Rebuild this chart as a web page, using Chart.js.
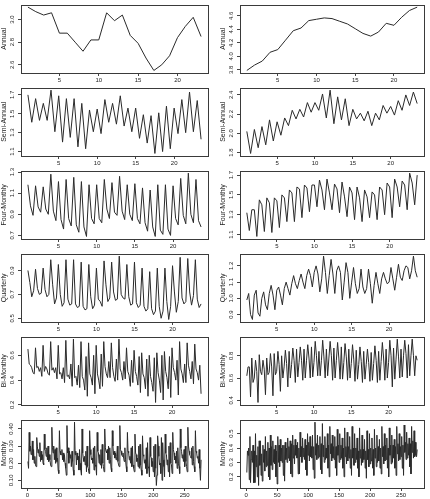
<!DOCTYPE html>
<html><head><meta charset="utf-8">
<script src="https://cdn.jsdelivr.net/npm/chart.js@4/dist/chart.umd.min.js"></script>
<style>
html,body{margin:0;padding:0;background:#fff;width:430px;height:499px;overflow:hidden}
canvas{position:absolute;display:block}
</style></head><body>
<script>
// ---- data ----
const rowNames = ["Annual","Semi-Annual","Four-Monthly","Quarterly","Bi-Monthly","Monthly"];
const periodsPerYear = [1,2,3,4,6,12];

const annualL = [3.11,3.07,3.04,3.06,2.88,2.88,2.80,2.72,2.82,2.82,3.06,2.99,3.04,2.86,2.79,2.66,2.55,2.60,2.68,2.84,2.94,3.02,2.85];
const annualR = [3.79,3.87,3.93,4.06,4.10,4.24,4.38,4.42,4.53,4.55,4.57,4.56,4.52,4.48,4.41,4.34,4.30,4.36,4.49,4.46,4.58,4.68,4.73];

const semiL = [1.70,1.41,1.66,1.43,1.61,1.43,1.75,1.31,1.69,1.20,1.66,1.25,1.66,1.15,1.61,1.13,1.54,1.31,1.55,1.29,
  1.65,1.41,1.61,1.39,1.69,1.37,1.56,1.31,1.56,1.24,1.49,1.19,1.48,1.08,1.51,1.10,1.58,1.13,1.56,1.29,1.65,1.30,1.73,1.31,1.64,1.23];
const semiR = [2.02,1.79,2.04,1.85,2.07,1.88,2.14,1.92,2.12,1.98,2.16,2.08,2.24,2.15,2.25,2.17,2.32,2.22,2.32,2.24,
  2.41,2.16,2.45,2.10,2.38,2.14,2.36,2.08,2.25,2.15,2.21,2.13,2.23,2.08,2.21,2.14,2.29,2.21,2.28,2.19,2.34,2.24,2.40,2.29,2.43,2.31];

const fourL = [1.18,0.98,0.89, 1.17,0.97,0.92, 1.16,0.95,0.90, 1.28,0.93,0.84, 1.21,0.85,0.76, 1.23,0.86,0.79,
  1.25,0.80,0.73, 1.21,0.78,0.69, 1.18,0.86,0.81, 1.18,0.86,0.82, 1.23,0.95,0.86, 1.20,0.92,0.89,
  1.26,0.93,0.85, 1.18,0.90,0.84, 1.19,0.86,0.81, 1.15,0.82,0.74, 1.13,0.78,0.69, 1.18,0.75,0.71,
  1.18,0.76,0.70, 1.17,0.86,0.80, 1.24,0.89,0.81, 1.29,0.90,0.82, 1.23,0.84,0.78];
const fourR = [1.32,1.14,1.35, 1.35,1.08,1.45, 1.40,1.13,1.47, 1.42,1.12,1.47, 1.44,1.17,1.50, 1.47,1.23,1.55,
  1.52,1.23,1.58, 1.56,1.27,1.60, 1.57,1.33,1.60, 1.60,1.38,1.65, 1.55,1.35,1.66, 1.52,1.35,1.61,
  1.56,1.32,1.63, 1.48,1.28,1.58, 1.52,1.25,1.58, 1.47,1.23,1.55, 1.48,1.27,1.53, 1.50,1.25,1.58,
  1.55,1.30,1.62, 1.58,1.27,1.66, 1.58,1.38,1.64, 1.60,1.35,1.72, 1.62,1.40,1.70];

const quartL = [0.90,0.80,0.68,0.73, 0.91,0.75,0.70,0.71, 0.92,0.74,0.68,0.70, 0.99,0.78,0.62,0.67,
  0.95,0.70,0.60,0.63, 0.99,0.66,0.61,0.62, 0.99,0.62,0.59,0.60, 0.97,0.60,0.57,0.58,
  0.95,0.68,0.58,0.61, 0.92,0.66,0.64,0.60, 0.98,0.78,0.64,0.67, 0.97,0.72,0.65,0.66,
  1.02,0.70,0.67,0.66, 0.95,0.68,0.61,0.62, 0.97,0.63,0.59,0.61, 0.92,0.60,0.56,0.58,
  0.89,0.58,0.53,0.56, 0.92,0.60,0.50,0.56, 0.92,0.64,0.49,0.60, 0.94,0.72,0.55,0.64,
  1.01,0.67,0.62,0.64, 1.00,0.72,0.61,0.69, 0.99,0.66,0.59,0.62];
const quartR = [0.99,1.03,0.90,0.87, 1.02,1.05,0.91,0.89, 1.00,1.04,0.96,0.93, 1.03,1.08,1.02,0.93,
  1.05,1.07,1.02,0.96, 1.06,1.10,1.06,1.02, 1.09,1.14,1.09,1.06, 1.11,1.15,1.10,1.06,
  1.14,1.18,1.14,1.07, 1.16,1.20,1.15,1.04, 1.12,1.26,1.16,1.03, 1.14,1.24,1.15,1.03,
  1.17,1.20,1.16,0.99, 1.10,1.22,1.16,1.00, 1.10,1.19,1.09,1.03, 1.06,1.18,1.07,1.03,
  1.06,1.18,1.09,0.97, 1.08,1.16,1.09,1.03, 1.12,1.16,1.12,1.09, 1.10,1.19,1.12,1.05,
  1.13,1.21,1.13,1.11, 1.17,1.20,1.19,1.12, 1.17,1.26,1.17,1.13];

const bimL = [0.65,0.53,0.52,0.50,0.46,0.45, 0.66,0.50,0.51,0.47,0.50,0.43, 0.68,0.47,0.51,0.49,0.45,0.44,
  0.71,0.48,0.50,0.46,0.50,0.41, 0.68,0.45,0.46,0.41,0.50,0.38, 0.72,0.43,0.44,0.41,0.53,0.35,
  0.73,0.42,0.43,0.36,0.52,0.34, 0.71,0.43,0.40,0.32,0.59,0.27, 0.70,0.45,0.42,0.36,0.60,0.29,
  0.68,0.45,0.40,0.33,0.61,0.35, 0.71,0.51,0.45,0.42,0.55,0.42, 0.70,0.50,0.43,0.39,0.57,0.40,
  0.73,0.49,0.46,0.40,0.55,0.41, 0.66,0.47,0.44,0.35,0.56,0.38, 0.64,0.47,0.43,0.36,0.59,0.30,
  0.62,0.45,0.42,0.33,0.57,0.27, 0.60,0.43,0.38,0.31,0.58,0.22, 0.62,0.46,0.40,0.30,0.60,0.24,
  0.63,0.47,0.42,0.33,0.59,0.26, 0.66,0.50,0.46,0.40,0.56,0.28, 0.71,0.49,0.45,0.38,0.53,0.38,
  0.70,0.52,0.47,0.41,0.55,0.37, 0.69,0.49,0.46,0.40,0.52,0.29];
const bimR = [0.62,0.70,0.70,0.43,0.78,0.56, 0.60,0.76,0.66,0.38,0.81,0.66, 0.63,0.76,0.68,0.45,0.78,0.63,
  0.65,0.82,0.70,0.44,0.82,0.63, 0.66,0.84,0.72,0.48,0.80,0.60, 0.70,0.85,0.73,0.52,0.84,0.60,
  0.72,0.87,0.76,0.56,0.86,0.61, 0.74,0.88,0.76,0.58,0.86,0.60, 0.76,0.90,0.78,0.60,0.88,0.61,
  0.74,0.93,0.80,0.62,0.84,0.62, 0.76,0.94,0.79,0.60,0.86,0.62, 0.78,0.93,0.80,0.58,0.87,0.60,
  0.76,0.92,0.78,0.59,0.88,0.59, 0.74,0.91,0.79,0.58,0.86,0.60, 0.73,0.90,0.77,0.57,0.85,0.59,
  0.72,0.88,0.75,0.56,0.84,0.59, 0.72,0.86,0.74,0.57,0.83,0.58, 0.73,0.89,0.76,0.56,0.84,0.58,
  0.75,0.92,0.78,0.58,0.86,0.60, 0.74,0.94,0.80,0.52,0.87,0.59, 0.77,0.95,0.79,0.60,0.86,0.61,
  0.80,0.94,0.82,0.60,0.90,0.62, 0.80,0.95,0.80,0.62,0.80,0.76];

const monL = [
  0.21,0.17,0.38,0.27,0.30,0.25,0.26,0.33,0.22,0.28,0.20,0.24,
  0.19,0.18,0.35,0.30,0.26,0.28,0.24,0.32,0.21,0.27,0.22,0.25,
  0.20,0.19,0.37,0.28,0.27,0.24,0.29,0.22,0.30,0.21,0.25,0.22,
  0.19,0.18,0.41,0.29,0.26,0.30,0.22,0.28,0.20,0.29,0.21,0.23,
  0.16,0.14,0.39,0.27,0.25,0.25,0.28,0.22,0.26,0.21,0.25,0.20,
  0.17,0.13,0.42,0.26,0.29,0.20,0.27,0.23,0.25,0.18,0.27,0.21,
  0.16,0.13,0.44,0.25,0.27,0.19,0.26,0.22,0.24,0.16,0.28,0.20,
  0.16,0.13,0.40,0.26,0.23,0.21,0.24,0.19,0.27,0.15,0.30,0.18,
  0.17,0.14,0.39,0.28,0.25,0.22,0.23,0.20,0.29,0.16,0.30,0.19,
  0.18,0.13,0.38,0.27,0.26,0.20,0.25,0.19,0.28,0.17,0.31,0.20,
  0.18,0.15,0.40,0.29,0.27,0.26,0.28,0.22,0.30,0.20,0.29,0.22,
  0.17,0.15,0.39,0.30,0.25,0.27,0.23,0.26,0.22,0.24,0.30,0.21,
  0.19,0.18,0.42,0.28,0.27,0.25,0.24,0.26,0.23,0.21,0.29,0.22,
  0.18,0.15,0.38,0.27,0.26,0.22,0.24,0.20,0.29,0.18,0.30,0.19,
  0.17,0.15,0.37,0.26,0.25,0.21,0.23,0.18,0.30,0.17,0.31,0.19,
  0.16,0.13,0.36,0.25,0.24,0.20,0.22,0.17,0.29,0.14,0.32,0.18,
  0.17,0.12,0.35,0.24,0.23,0.18,0.21,0.15,0.30,0.12,0.31,0.17,
  0.07,0.13,0.36,0.30,0.24,0.19,0.20,0.14,0.35,0.10,0.32,0.22,
  0.18,0.12,0.37,0.26,0.25,0.19,0.22,0.15,0.30,0.12,0.32,0.20,
  0.19,0.14,0.38,0.28,0.26,0.22,0.24,0.20,0.27,0.17,0.29,0.20,
  0.18,0.14,0.40,0.29,0.27,0.23,0.25,0.21,0.28,0.18,0.30,0.21,
  0.18,0.15,0.41,0.30,0.27,0.25,0.24,0.23,0.29,0.19,0.30,0.21,
  0.18,0.15,0.39,0.27,0.26,0.23,0.24,0.20,0.28,0.17,0.10,0.22];
const monR = [
  0.23,0.38,0.35,0.40,0.18,0.48,0.16,0.32,0.38,0.30,0.42,0.16,
  0.38,0.16,0.50,0.27,0.35,0.20,0.41,0.14,0.45,0.28,0.45,0.21,
  0.36,0.17,0.42,0.30,0.39,0.24,0.48,0.27,0.38,0.28,0.44,0.20,
  0.40,0.18,0.49,0.28,0.41,0.25,0.45,0.30,0.39,0.29,0.42,0.20,
  0.38,0.15,0.48,0.30,0.42,0.27,0.46,0.31,0.40,0.30,0.42,0.21,
  0.42,0.17,0.44,0.32,0.40,0.30,0.47,0.33,0.41,0.31,0.45,0.22,
  0.43,0.20,0.49,0.33,0.42,0.29,0.46,0.35,0.42,0.33,0.44,0.22,
  0.40,0.22,0.51,0.34,0.41,0.30,0.47,0.34,0.40,0.32,0.46,0.25,
  0.42,0.21,0.50,0.35,0.44,0.31,0.48,0.34,0.41,0.33,0.49,0.25,
  0.41,0.19,0.58,0.35,0.43,0.32,0.49,0.33,0.42,0.34,0.48,0.25,
  0.43,0.22,0.57,0.34,0.42,0.30,0.48,0.32,0.40,0.33,0.50,0.26,
  0.42,0.20,0.55,0.36,0.43,0.31,0.49,0.33,0.41,0.32,0.48,0.26,
  0.41,0.21,0.53,0.35,0.42,0.30,0.50,0.32,0.42,0.33,0.47,0.26,
  0.40,0.20,0.54,0.34,0.41,0.29,0.51,0.31,0.41,0.33,0.48,0.26,
  0.39,0.21,0.55,0.33,0.40,0.28,0.50,0.30,0.40,0.32,0.47,0.26,
  0.38,0.20,0.54,0.33,0.39,0.28,0.49,0.30,0.39,0.32,0.46,0.26,
  0.38,0.19,0.52,0.32,0.39,0.27,0.50,0.29,0.40,0.31,0.47,0.26,
  0.39,0.21,0.53,0.33,0.40,0.27,0.49,0.30,0.41,0.31,0.46,0.26,
  0.40,0.22,0.55,0.34,0.41,0.29,0.50,0.31,0.42,0.32,0.47,0.26,
  0.40,0.20,0.54,0.35,0.42,0.29,0.49,0.30,0.42,0.33,0.46,0.26,
  0.41,0.21,0.55,0.36,0.43,0.31,0.50,0.32,0.41,0.34,0.48,0.26,
  0.42,0.21,0.56,0.37,0.44,0.32,0.51,0.33,0.43,0.35,0.47,0.27,
  0.43,0.22,0.55,0.37,0.45,0.33,0.52,0.34,0.44,0.35,0.34,0.39];

const yTicksL = [[2.6,2.8,3.0],[1.1,1.3,1.5,1.7],[0.7,0.9,1.1,1.3],[0.5,0.7,0.9],[0.2,0.4,0.6],[0.10,0.20,0.30,0.40]];
const yTicksR = [[3.8,4.0,4.2,4.4,4.6],[1.8,2.0,2.2,2.4],[1.1,1.3,1.5,1.7],[0.9,1.0,1.1,1.2],[0.4,0.6,0.8],[0.2,0.3,0.4,0.5]];
const yDecimalsL = [1,1,1,1,1,2];
const yDecimalsR = [1,1,1,1,1,1];
const xTicksYears = [5,10,15,20];
const xTicksMonths = [0,50,100,150,200,250];

// ---- drawing ----
const FONT = "'Liberation Sans', Arial, Helvetica, sans-serif";
const leftSeries = [annualL, semiL, fourL, quartL, bimL, monL];
const rightSeries = [annualR, semiR, fourR, quartR, bimR, monR];

const boxPlugin = {
  id: 'rbox',
  afterDatasetsDraw(chart) {
    const a = chart.chartArea, ctx = chart.ctx;
    ctx.save();
    ctx.strokeStyle = '#3a3a3a';
    ctx.lineWidth = 1;
    ctx.strokeRect(Math.round(a.left) + 0.5, Math.round(a.top) + 0.5,
                   Math.round(a.right - a.left), Math.round(a.bottom - a.top));
    ctx.restore();
  }
};

function makePanel(col, row) {
  const series = col === 0 ? leftSeries[row] : rightSeries[row];
  const ticksY = col === 0 ? yTicksL[row] : yTicksR[row];
  const dec = col === 0 ? yDecimalsL[row] : yDecimalsR[row];
  const f = periodsPerYear[row];
  const monthly = row === 5;
  const pts = series.map((v, i) => ({ x: monthly ? i + 1 : 1 + i / f, y: v }));
  const xs = pts.map(p => p.x);
  const x0 = Math.min(...xs), x1 = Math.max(...xs);
  const y0 = Math.min(...series), y1 = Math.max(...series);
  const ex = (x1 - x0) * 0.04, ey = (y1 - y0) * 0.04;
  const xTicks = monthly ? xTicksMonths : xTicksYears;

  const top = 83 * row, h = row === 5 ? 84 : 83;
  const left = col === 0 ? 0 : 219, w = col === 0 ? 215 : 211;
  const cv = document.createElement('canvas');
  cv.width = w; cv.height = h;
  cv.style.left = left + 'px'; cv.style.top = top + 'px';
  cv.style.width = w + 'px'; cv.style.height = h + 'px';
  document.body.appendChild(cv);

  new Chart(cv, {
    type: 'line',
    data: { datasets: [{ data: pts, borderColor: '#2a2a2a', borderWidth: 1, pointRadius: 0, tension: 0, fill: false }] },
    options: {
      responsive: false, animation: false, devicePixelRatio: 1, events: [],
      layout: { padding: { top: 4, right: col === 0 ? 7 : 6, bottom: row === 5 ? 1 : 0, left: 0 } },
      plugins: { legend: { display: false }, tooltip: { enabled: false } },
      scales: {
        x: {
          type: 'linear', min: x0 - ex, max: x1 + ex,
          afterBuildTicks: s => { s.ticks = xTicks.map(v => ({ value: v })); },
          afterFit: s => { s.height = 10; },
          ticks: { font: { size: 6, family: FONT }, color: '#222', padding: 1, maxRotation: 0, autoSkip: false,
                   callback: v => String(v) },
          grid: { drawOnChartArea: false, drawTicks: true, tickLength: 3, color: '#444' },
          border: { display: false }
        },
        y: {
          type: 'linear', min: y0 - ey, max: y1 + ey,
          afterBuildTicks: s => { s.ticks = ticksY.map(v => ({ value: v })); },
          afterFit: s => { s.width = 21; },
          ticks: { font: { size: 6, family: FONT }, color: '#222', padding: 1, minRotation: 90, maxRotation: 90,
                   crossAlign: 'center', autoSkip: false, callback: v => Number(v).toFixed(dec) },
          grid: { drawOnChartArea: false, drawTicks: true, tickLength: 3, color: '#444' },
          border: { display: false },
          title: { display: true, text: rowNames[row], font: { size: 7, family: FONT }, color: '#222', padding: { top: 0, bottom: 0 } }
        }
      }
    },
    plugins: [boxPlugin]
  });
}

for (let r = 0; r < 6; r++) { makePanel(0, r); makePanel(1, r); }
</script>
</body></html>
